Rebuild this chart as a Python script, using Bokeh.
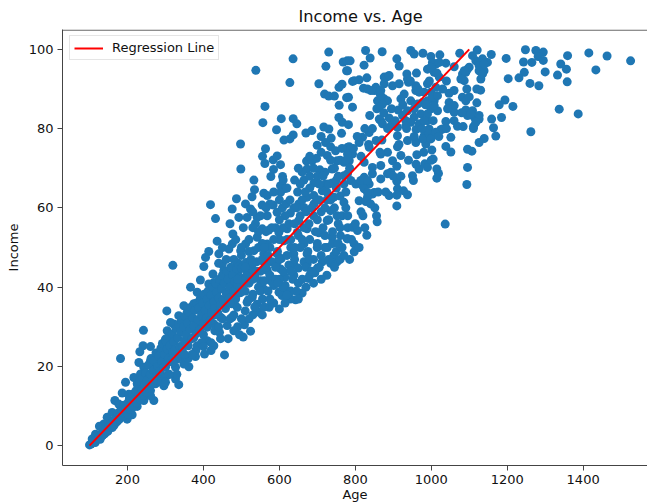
from bokeh.embed import file_html
from bokeh.resources import INLINE
from bokeh.plotting import figure
from bokeh.models import FixedTicker, Range1d, Legend, LegendItem

TITLE = "Income vs. Age"
X_LABEL = "Age"
Y_LABEL = "Income"
LINE_LABEL = "Regression Line"
X_TICKS = [200, 400, 600, 800, 1000, 1200, 1400]
Y_TICKS = [0, 20, 40, 60, 80, 100]
LINE_AGE = [100, 1100]
LINE_INCOME = [0, 100]

upper_left = [
(538,94.7),(636,97.6),(730,99.3),(722.5,95.7),(627.6,91.6),(704,91.3),(768,96.8),(778.6,97.1),(777,94.6),(765,91.2),
(757,90.4),(719,88.7),(730,88.2),(745,88.2),(777,87.8),(757.5,85.9),(562,85.6),(556.5,81.5),(605,82.5),(636.4,82.5),
(646,81.2),(592.5,79.7),(636.4,78.4),(627.6,77.4),(612,77.1),(669.8,78.9),(685.5,79.5),(717,80.4),(730.3,79.9),(756.7,82.8),
(765.5,81.6),(763.7,78.8),(710,78),(736.5,77.6),(721.5,76.5),(699.6,75.8),(735,75.4),(748,74.4),(780,75.3),(497.7,76.1),
(563.5,74.9),(555.6,73),(561.8,71.2),(583.7,72.1),(594.2,73.1),(603,70.9),(584.6,69.7),(577.6,67.9),(608.3,67.9),(498.5,69.8),
(532.8,67),(671.5,71.8),(697.9,72.5),(686.4,71.9),(726,73.2),(673,69.8),(706.6,69.6),(739,69.8),(752,71.9),(770,71.5),
(664.5,67),(770,68.1),(691,66.3),(721.5,66),(739,66.3),(603,65.6),(616,64.9),(534.5,64.6),(603,63.9),(528,62.8),
(559,63.7),(568,63.1),(487,62.3),(418.6,60.8),(475.7,59.7),(510.8,61),(524,59.7),(554.7,60.7),(583.7,60.7),(431.8,57.3),
(493.3,57.6),(515,57.6),(541.6,57.6),(568,58),(594,58.9),(629,58.7),(651,61),(673,62.7),(691,63.1),(713,64.3),
(743.5,62.7),(770,61.4),(664.5,60.1),(691,61),(735,59.3),(752,58),(726,56.8),(651,56.8),(537,56),(555,54.7),
(572,54.4),(598.6,53.8),(620.6,54.7),(647,53.8),(673,54.7),(704,53.7),(739,52.6),(761,53),(778.6,52.2),(477.5,53.4),
(436,51.6),(511,50.9),(476,50.9),(541.6,52.6),(568,50.9),(612,51.7),(664.5,50.9),(699.6,50),(726,50),(414,49),
(405.5,47.5),(440.6,48.4),(467,49.6),(498,49.2),(533,49.2),(559,48.4),(594,48.4),(638,48.4),(673,48.4),(743.5,48),
(680,65),(700,68),(720,69),(735,72),(750,67),(760,72),(775,64),(700,62),(725,62),(600,52),(610,55),(615,58),(625,56),
(630,52),(640,56),(645,60),(650,53),(655,58),(660,62),(665,55),(670,59),(678,56),(680,52),(685,60),(690,58),(695,54),
(700,57),(705,62),(710,59),(715,55),(720,60),(725,64),(730,57),(735,62),(740,54),(745,60),(750,65),(755,56),(760,63),
(765,58),(770,66),(775,60),(780,55),
]
upper_right = [
(827,99.7),(870.7,99.4),(946,99.7),(955,98.8),(978,99),(999,98.2),(1022.6,98.6),(1075,99),(1121,99.8),(1158,98.7),
(1197.3,97.7),(1248,99.9),(1275.5,99.7),(1295,99.3),(1281.6,98.2),(1359,98.4),(1415,99.1),(1463,98.3),(1525,97.1),(839,97.8),
(786.4,97.1),(823,96),(909.3,97.6),(915.5,95.8),(1243,96.8),(1265,96.7),(1295,97.2),(1341,96.3),(1356,95),(1300,94.3),
(1433.5,94.8),(1332.5,93.5),(1358,91.8),(1245,94.2),(1231,92.8),(1202.6,92.6),(1260,91.4),(1283.4,90.8),(1117.4,97.1),(1135,97.6),
(1148,96.7),(1126,95.9),(1139,94.6),(1130.6,92.5),(1095.5,95),(1082.3,93.8),(1086.7,92.1),(1093.7,90),(1130,89.7),(1060.4,95.6),
(1038.4,96.5),(1012,96.3),(990,95),(1007.7,94.2),(961,94),(935.7,93.8),(884.8,93.1),(830.3,92.8),(792.6,91.9),(810,92.3),
(821.5,90.2),(876,91.3),(898,90.8),(915.5,91.3),(940,91.7),(968,89.2),(959.4,90.8),(990,91.3),(1021,93),(849.6,89.6),
(863,89.2),(928.7,88.7),(999,89.2),(1060,89.6),(1047,88.9),(1082,87.9),(1091,87),(1120,86.5),(1194,87.2),(1179,86),
(1215,85.6),(876,87.5),(858.4,87),(920,87.5),(946,87),(1007.7,87),(1047,86.6),(792.6,85.4),(782,87.9),(856.7,85),
(913,84.7),(955,85),(999,85),(1016.5,84.5),(1060.4,84.1),(1091,84.7),(1108.7,84.5),(1337,84.9),(1387,83.7),(838,83.3),
(889,82.7),(867,82),(990,82),(955,82.9),(933,82),(1113,82.9),(1126,83.3),(1159,82.4),(1185,82.8),(1038.4,81.8),
(893.5,80.7),(782,81),(946,81.6),(1069,80.6),(1084,80.5),(1111.3,80.5),(1111,80),(1164,80.2),(1262.3,79.2),(960,79.8),
(994.5,79.9),(1025,79.7),(836.5,79),(819,77.8),(911,78.2),(990,78.2),(1007.7,78.6),(1051.6,77.8),(1170,78.1),(1139.4,77.5),
(1126,76.5),(870,77.1),(810,76.5),(937.4,77),(959.4,76.5),(985.7,76.1),(1038.4,75.5),(1095.5,74.8),(1107,74.3),(1051.6,74.1),
(1001.5,74.6),(911,75.4),(836.5,75.3),(784,75.4),(792.6,73.6),(884.8,74),(867,73.6),(920,73.2),(962,73.4),(1005,72.3),
(784,71.9),(823.3,71.5),(898,71.9),(983,71.1),(867,70.7),(845,70.2),(909.3,70.5),(1095.5,70.2),(1014.7,69.8),(893.5,69),
(968,69.8),(990,70.2),(823.3,67.7),(845,68.6),(950.6,68.1),(884.8,68.6),(1019,68.7),(788,66.9),(867,67.3),(909.3,66.7),
(1014.7,67.5),(953,66.9),(1093.7,65.9),(836.5,66),(801.4,66),(819,65.6),(937.4,63.3),(911,64.8),(927,64.3),(889,63.1),
(909.3,63.2),(845,63.5),(832,62.7),(810,61.8),(827.7,61.6),(909.3,60.5),(851.4,60),(855.8,58),(857.5,56.5),(1036.7,55.9),
(792.6,55.1),(805.7,54.3),(830.3,53.1),(797,50.9),(797,48.9),(779.4,52.2),(990,87),(1003,87.9),(1016.5,88.3),(977,86.6),
(964,86.2),(937.4,84.5),(924.3,83.3),(972.6,83.7),(990,83.7),(1007.7,85.8),(1060.4,85.8),(1043,85),(1095.5,83.3),(1126,82.4),
(1117.4,81.6),(1104,83.7),(867,88.3),(884.8,87),(871.6,86.2),(863,85.4),(854,90.4),(832,90),(841,89.6),(867,89.6),
(990,77.8),(981.4,78.2),(999,77.4),(990,79.5),(1012,79.1),(1029.6,79.9),(977,77.4),(968,81.2),(933,80.7),(911,80.3),
(981.4,82),(1091,94.2),(1100,95.5),(1078,92.5),(1087,94.6),(1139.4,96.3),(1126,94.6),(1108.7,98.4),(1135,93.8),(788,74.9),
(779.4,73.6),(779.4,68.6),(814.5,66.9),(832,66.9),(849.6,63.9),(823.3,64.8),(832,63.9),(863,82.4),(871.6,81.2),(779.4,94.6),
(981.4,89.2),(1012,90.4),(1003,96.7),(999,95.5),(1021,96.7),(876,93),(889,93.4),(797,92.1),(937.4,92.5),(959.4,89.6),
]
lower = [
(319.4,45.5),(242,29.1),(181.6,22),(303.6,34),(366,40),(392,41.8),(401,45.2),(425,43.3),(449.4,45.8),(455.5,22.9),
(379,22.5),(402.8,23.1),(335,15.4),(326.5,16.8),(269.4,11.4),(504.7,27.4),(524,28.9),(508,30.5),(573,34.9),(546,33.7),
(642.5,36.8),(629.4,37),(660,38.5),(607,37.9),(619,38.9),(555.6,37),(599,38.7),(676,42.2),(693.5,43.6),(638,43),
(614.4,42.5),(673,45.8),(713,46.4),(752,46.4),(638,45.8),(603,44.6),(577,41.6),(559,39.5),(528.4,37.4),(541.6,35.7),
(515,36.2),(489,34.9),(475.7,32.4),(462.5,30.3),(442.3,28.6),(427.4,25.2),(410,26.5),(383.5,25.2),(361.6,19.9),(348.4,20.6),
(374.7,27.3),(339.6,22.3),(410,29.9),(427.4,30.7),(445,32.4),(418.6,33.2),(383.5,30.7),(361.6,29.9),(344,28.6),(322,30.7),
(304.5,29),(300,26.9),(317.7,26.5),(335,32.8),(313.3,31.1),(357,33.6),(374.7,35.8),(392,36.6),(383.5,38.7),(418.6,37.9),
(436,39.5),(414,40.8),(445,41.6),(475.7,40.4),(462.5,37.9),(449.4,35.8),(489,38.3),(502,40),(510.8,42.5),(480,42.9),
(453.8,44.2),(493,44.2),(532.8,43.3),(550,41.6),(568,44.2),(519.6,45.8),(559,46.3),(594,46.3),(489,46),(427.4,41.2),
(348.4,35.3),(260.6,25),(241,25.2),(232.5,23.7),(278,22.7),(230,21),(260.6,21.4),(295.7,24.4),(282.5,21.4),(313.3,23.6),
(243,19.8),(269.4,19.3),(300,19.8),(326.5,19.8),(216.7,17.2),(234.3,18.1),(260.6,17.2),(287,17.7),(304.5,17.7),(194.8,16),
(225.5,15.6),(247.4,15.6),(273.8,15.6),(295.7,15.1),(186,13.3),(203.5,13),(234.3,14.3),(260.6,13.9),(166.7,11.4),(177,10.5),
(225.5,9.9),(243,11.4),(260.6,12.6),(146.5,7.2),(159.6,8.4),(181.6,8.8),(212.3,7.8),(199,6.7),(126,4.9),(137.7,5.5),
(168.4,6.3),(159.6,5),(133,2.5),(115.7,2.9),(107,1.7),(100,.2),(104,0.4),
(110,1.2),(115,0.8),(118,1.5),(125,2),(128,1.6),(132,3.1),(135,2.7),(140,3),(142,4.4),(148,3.6),(150,4.8),(155,5.6),
(160,4.6),(162,6.2),(165,5.2),(170,7),(172,6),(175,8.2),(178,6.6),(180,7.6),(185,9),(188,7.4),(190,10.2),(192,8.2),
(196,9.6),(200,8),(202,11),(205,12),(208,9.2),(210,10.4),(214,13),(216,9.8),(220,11.6),(222,13.8),(225,10.8),(228,15),
(230,12.4),(232,16.2),(235,11.6),(238,14.2),(240,17),(242,12.8),(245,15.4),(248,18.4),(250,13.4),(252,16.6),(255,20.4),
(258,14.4),(260,18),(262,22),(265,15.6),(268,19),(270,21.4),(272,16.6),(275,23.4),(278,17.8),(280,20),(282,22.6),(285,18.8),
(288,24.6),(290,21.2),(292,25.8),(295,19.8),(298,23),(300,26.4),(302,20.6),(305,24.4),(308,22),(310,27.6),(312,25.2),
(315,21.6),(318,28.2),(320,23.6),(322,26.2),(325,24.2),(328,29.6),(330,21.8),(332,27.2),(335,30.6),(338,25),(340,28.8),
(342,31.6),(345,23.6),(348,30),(350,26.4),(352,32.6),(355,28),(358,31),(360,25.2),(362,33.6),(365,29.4),(368,35),(370,27),
(372,32.2),(375,30.2),(378,34.2),(380,28.2),(382,36),(385,31.8),(388,34.8),(390,29.2),(392,37.2),(395,33),(398,36),(400,31),
(402,38.2),(405,34.2),(408,32.2),(410,37),(412,39),(415,35.4),(418,31.6),(420,38),(422,33.6),(425,40),(428,36.4),(430,34.6),
(432,41),(435,38.6),(438,33.4),(440,37.2),(442,42),(445,35.6),(448,39.6),(450,43),(452,36.8),(455,41),(458,34.6),(460,38.4),
(462,44),(465,42),(468,37.2),(470,40),(472,45),(475,35.8),(478,43),(480,39),(482,41.4),(485,37),(488,44.6),(490,40.6),
(492,46),(495,42.4),(498,38.6),(500,44.8),(505,41.6),(510,39),(512,46.2),(515,43.4),(518,36.8),(520,41),(525,47),(528,44.6),
(530,38.2),(535,42.8),(540,46.4),(545,40),(550,44),(555,47),(560,41.6),(565,45),(570,48),(575,43),(580,46.4),(585,40.4),
(590,45),(595,49),(600,42),(605,47.2),(610,44),(615,40.4),(620,48),(625,45.6),(630,50),(635,42),(640,47),(650,44.8),
(655,50),(665,46.4),(675,49),(680,43),(690,47),(700,44.8),(710,48),(720,50),(735,46),(750,49),(760,47),
]
mid_fill = [
(480,47),(500,50),(520,52),(530,46),(545,50),(555,51),(565,54),(575,50),(585,52),(590,55),(600,57),(608,60),(618,61),(628,62),
(638,60),(648,64),(655,66),(668,64),(680,68),(690,70),(705,66),(715,68),(730,66),(745,70),(755,68),(765,75),(775,72),(785,70),
(795,75),(805,78),(815,73),(825,80),(835,76),(845,80),(855,77),(865,74),(875,84),(885,80),(895,85),(905,82),(915,76),(925,86),
(935,80),(945,92),(955,78),(965,90),(975,80),(985,86),(995,92),(1005,82),(1015,94),(1030,90),(1040,92),
(520,49),(540,44),(560,50),(580,55),(600,47),(620,52),(640,50),(660,52),(680,47),(700,51),(720,53),(740,51),(760,55),(780,58),
(800,56),(820,58),(840,61),(860,64),(880,64),(900,68),(920,68),(940,72),(960,71),(980,74),(1000,72),(1020,78),(1040,80),(1060,82),
(1080,84),(1100,88),(1120,90),
(470,36),(490,42),(510,45),(530,42),(550,39),(570,39),(590,42),(610,40),(630,44),(650,41),(670,45),(430,29),(450,32),(470,32),
(490,30),(510,34),(530,33),(400,28),(420,26),(440,30),(380,24),(395,26),(360,22),(370,23),(345,25),(330,18),(320,21),(310,18),
(350,23),(290,16),(300,16),
]
lower_edge = [
(465,27),(480,29),(495,28),(520,32),(535,35),(560,35),(585,36),(600,34.5),(615,36),(630,39),(645,39),(660,42),(690,41),
(705,45),(725,43),(745,45),(765,50),(785,47),(810,50),(430,33),(420,24),(445,27),(400,25),(480,33),(500,32),(555,33),
(575,37),(595,41),(620,38),(650,37),(670,40),(685,44),(710,42),(730,47),(755,51),(770,48),(790,52),(815,59),(825,55),
(440,46),(460,47),(485,52),(505,55),(530,55),(550,58),(575,61),(600,62),(620,65),(640,67),(660,69),(450,50),(470,56),
(500,48),(530,59),(545,54),(565,60),(585,64),(610,67),(650,70),(680,73),(710,74),
]

points = upper_left + upper_right + lower + mid_fill + lower_edge
age = [a for a, _ in points]
income = [b for _, b in points]

FONT = "DejaVu Sans"
DARK = "#444444"
INK = "#111111"
X_MIN, X_MAX = 28.8, 1569.5
Y_MIN, Y_MAX = -5, 105
TOP_RULE = 104.85

p = figure(width=647, height=504, output_backend="svg", toolbar_location=None,
           x_range=Range1d(X_MIN, X_MAX), y_range=Range1d(Y_MIN, Y_MAX),
           min_border_left=62, min_border_right=0, min_border_top=29, min_border_bottom=39)
p.grid.visible = False
p.outline_line_color = None
p.background_fill_color = "white"

p.title.text = TITLE
p.title.align = "left"
p.title.offset = 236
p.title.text_font = FONT
p.title.text_font_size = "16.2px"
p.title.text_font_style = "normal"
p.title.text_color = INK
p.title.standoff = 7

for ax, ticks in ((p.xaxis[0], X_TICKS), (p.yaxis[0], Y_TICKS)):
    ax.ticker = FixedTicker(ticks=ticks)
    ax.minor_tick_line_color = None
    ax.major_tick_in = 0
    ax.major_tick_out = 5
    ax.major_tick_line_color = DARK
    ax.axis_line_color = DARK
    ax.major_label_text_font = FONT
    ax.major_label_text_font_size = "13px"
    ax.major_label_text_color = INK
    ax.major_label_standoff = 4
    ax.axis_label_text_font = FONT
    ax.axis_label_text_font_size = "13px"
    ax.axis_label_text_font_style = "normal"
    ax.axis_label_text_color = INK

p.yaxis[0].axis_label = Y_LABEL
p.yaxis[0].axis_label_standoff = 5
p.xaxis[0].axis_label = X_LABEL
p.xaxis[0].axis_label_standoff = 0

p.line([X_MIN, X_MAX], [TOP_RULE, TOP_RULE], line_color=DARK, line_width=1)

dots = p.scatter(age, income, size=9, color="#1f77b4", line_color=None)
reg = p.line(LINE_AGE, LINE_INCOME, line_color="#ff0000", line_width=2)

legend = Legend(items=[LegendItem(label=LINE_LABEL, renderers=[reg])], location=(7, 405),
                label_text_font=FONT, label_text_font_size="13px", label_text_color=INK,
                glyph_width=29, glyph_height=14, label_standoff=9, padding=4, margin=0, spacing=0,
                border_line_color="#cccccc", border_line_width=1, background_fill_alpha=0.8)
p.add_layout(legend, "center")

open("out.html", "w").write(file_html(p, INLINE))
